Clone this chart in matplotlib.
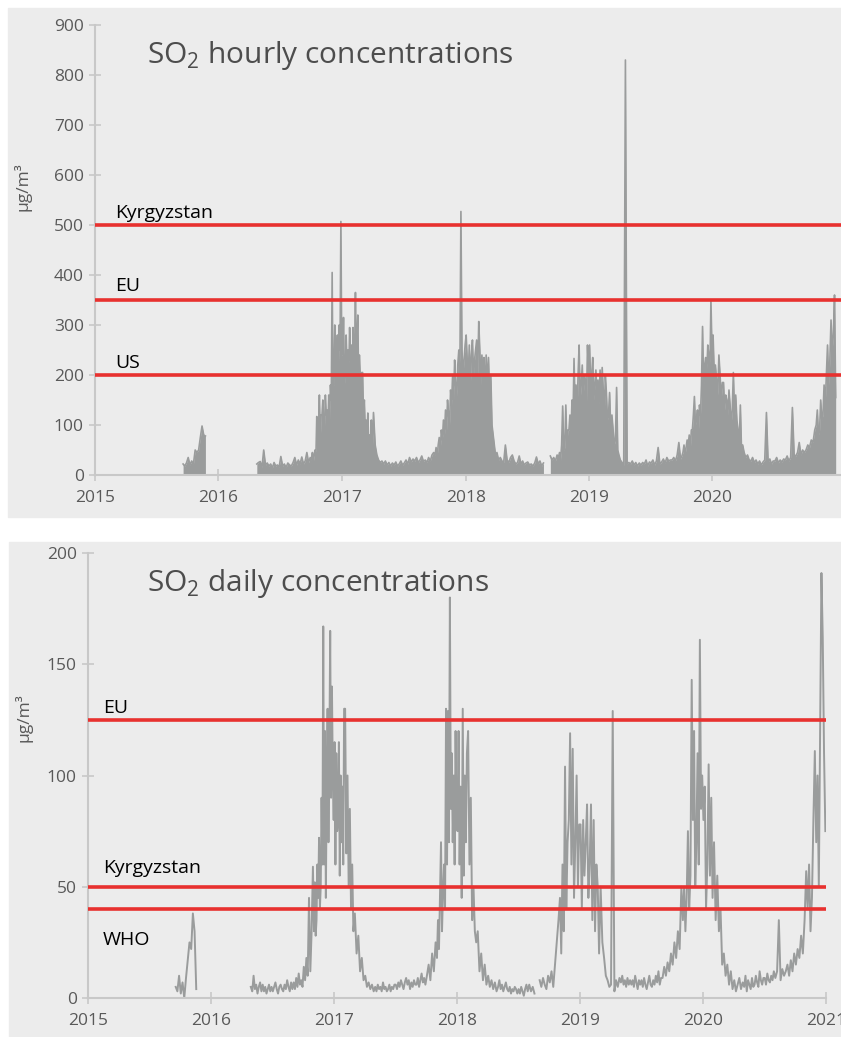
import calendar
from datetime import datetime, timedelta
import numpy as np
import matplotlib.pyplot as plt
import matplotlib.dates as mdates
from matplotlib.patches import Rectangle

plt.rcParams['font.family'] = ['Open Sans', 'DejaVu Sans']
plt.rcParams['mathtext.fontset'] = 'custom'
plt.rcParams['mathtext.rm'] = 'Open Sans'

# ---------- Data ----------
# hourly panel: peak values spread over each month, "-" = no data
hourly_months = ["2015-09", "2015-10", "2015-11",
                 "2016-04", "2016-05", "2016-06", "2016-07", "2016-08", "2016-09",
                 "2016-10", "2016-11", "2016-12",
                 "2017-01", "2017-02", "2017-03", "2017-04", "2017-05", "2017-06",
                 "2017-07", "2017-08", "2017-09", "2017-10", "2017-11", "2017-12",
                 "2018-01", "2018-02", "2018-03", "2018-04", "2018-05", "2018-06",
                 "2018-07", "2018-08", "2018-09", "2018-10", "2018-11", "2018-12",
                 "2019-01", "2019-02", "2019-03", "2019-04", "2019-05", "2019-06",
                 "2019-07", "2019-08", "2019-09", "2019-10", "2019-11", "2019-12",
                 "2020-01", "2020-02", "2020-03", "2020-04", "2020-05", "2020-06",
                 "2020-07", "2020-08", "2020-09", "2020-10", "2020-11", "2020-12"]
hourly_peaks = ["- - - 22 18 24", "35 20 28 22 50 45", "50 75 98 80 78 -",
                "- - - - 22 25", "27 15 50 20 24 18", "22 14 25 18 20 16",
                "37 18 22 15 24 20", "18 25 35 20 30 22", "36 22 28 45 25 35",
                "30 45 25 40 50 35 117 60 90 160 70 120",
                "120 150 80 100 160 120 130 90 160 110 180 150",
                "405 150 200 300 180 250 280 200 300 250 507 240",
                "240 315 180 200 280 220 250 200 295 230 260 180",
                "295 200 250 365 220 280 320 180 240 200 150 205",
                "205 120 150 90 110 70 124 60 80 50 110 40",
                "125 60 40 30 25 28", "22 28 20 25 18 24", "20 26 18 22 28 20",
                "24 30 22 35 26 32", "28 35 25 30 38 27", "30 25 35 28 40 45",
                "40 55 35 60 75 50 90 70 110 80",
                "130 90 150 120 100 170 140 200 150 230",
                "180 150 220 250 200 527 250 200 230 260",
                "280 230 200 260 180 240 270 200 230 250",
                "270 200 307 250 180 240 200 235 150",
                "240 180 235 150 200 100 80 60 40",
                "45 30 35 28 25 60", "30 25 35 40 28 22", "25 38 22 28 20 24",
                "26 20 22 18 24 36", "22 28 18 24 - -", "- 38 30 35 28 40",
                "35 45 30 60 138 50 55 140 60 90",
                "90 120 80 150 110 233 140 180 120 200",
                "260 150 180 220 160 200 190 140 260 200",
                "260 180 200 235 150 180 210 160 190 140",
                "210 150 215 170 120 200 165 110 120",
                "165 90 120 90 60 70 175 50 40",
                "30 25 20 830 22 25", "22 28 20 25 18 24", "20 25 22 30 18 26",
                "24 30 20 28 55 22", "26 32 24 35 28 30", "30 35 28 40 65 32",
                "38 45 60 40 55 70 60 80 50 90",
                "90 120 157 100 110 130 90 140 120 180",
                "297 180 220 235 200 260 240 200 350 250",
                "280 200 220 190 160 240 200 150 185",
                "185 130 160 150 120 170 140 100 130",
                "205 120 160 110 90 60 140 50 60",
                "45 35 40 30 28 35", "25 30 22 28 20 26", "30 125 25 32 22 28",
                "28 35 24 30 26 32", "30 38 28 35 135 40", "38 45 65 40 50 45",
                "50 60 55 70 65 90", "100 130 80 90 150 110 120 180 140",
                "200 260 180 230 310 250 280 360 155"]

# daily panel
daily_months = hourly_months
daily_values = ["- - - 5 3 10", "2 7 0 9 17 25", "22 38 30 4 - -",
                "- - - - - 5", "3 10 4 6 2 5 7 3", "6 3 5 2 4 6 3 5",
                "3 5 7 4 2 5 6 4", "3 6 4 8 5 3 7 4", "7 4 9 5 11 6 8 5",
                "14 8 18 10 45 12 30 59", "30 52 28 35 60 45 72 40 50 90 60 167",
                "60 120 45 95 130 70 110 165 90 140 100 80",
                "115 60 110 75 80 115 55 100 70 95 60 130",
                "130 65 100 50 85 40 60 30",
                "38 20 28 12 18 8", "10 5 7 4 6 3", "5 3 6 4 5 3 7 4", "5 3 4 6 3 5 4 6",
                "6 4 7 5 8 6 4 7", "9 6 8 4 7 5 8 6", "6 9 5 8 11 7 9 6",
                "10 15 8 20 12 25", "18 35 22 45 70 30 48 60 40 130",
                "60 129 70 180 85 110 70 100 60 120 80",
                "75 120 60 95 45 130 55 100 70 110", "120 60 90 35 50 30 25",
                "30 12 20 8 15 6", "10 5 8 4 7 3", "5 8 4 6 3 5 7 4", "3 5 2 4 3 5 4 2",
                "4 2 5 3 1 4 6 3", "6 3 5 2 - -", "8 5 9 6 4 10", "7 12 5 15 25 35",
                "45 20 60 30 104 40 70 80", "119 60 112 45 70 100 50 78",
                "78 40 80 55 70 87 45 60", "87 35 80 30 60 50 20",
                "50 25 18 10 8 5", "6 129 3 8 5 9", "7 10 6 8 5 9 6 8", "6 8 5 10 7 4 8 6",
                "8 5 9 6 4 7 10 6", "5 8 6 10 7 12 6 9", "9 14 10 16 12 20", "15 25 18 30 22 50",
                "35 50 30 45 75 40 55 143", "80 120 50 70 110 60 161 85 100",
                "80 95 40 60 105 55 90 45", "70 35 55 30 40 15",
                "20 10 15 6 12 4", "8 3 6 9 4 7", "5 10 3 8 6 4 9 5", "6 10 7 5 12 8 6 9",
                "9 6 11 8 7 10 8 12", "9 12 35 8 13 10", "12 15 10 17 12 20",
                "15 22 18 28 20 35", "57 40 60 30 45 80 111", "70 100 50 120 191 162 110 75"]

hourly_limits = [("Kyrgyzstan", 500), ("EU", 350), ("US", 200)]
daily_limits = [("EU", 125), ("Kyrgyzstan", 50), ("WHO", 40)]
hourly_label_y = [515, 368, 214]
daily_label_y = [128, 56, 24]

GRAY = "#9a9c9c"
RED = "#e8312f"
TXT = "#595959"
PANEL = "#ececec"
AXC = "#c8c8c8"


def expand(months, vals):
    """spread each month's readings evenly over the month; NaN between non-adjacent months"""
    xs, ys = [], []
    prev = None
    for m, s in zip(months, vals):
        yr, mo = map(int, m.split("-"))
        if prev is not None and (yr * 12 + mo) - prev > 1:
            xs.append(datetime(yr, mo, 1))
            ys.append(np.nan)
        prev = yr * 12 + mo
        nd = calendar.monthrange(yr, mo)[1]
        parts = s.split()
        for i, p in enumerate(parts):
            xs.append(datetime(yr, mo, 1) + timedelta(days=(i + 0.5) * nd / len(parts)))
            ys.append(np.nan if p == "-" else float(p))
    return np.array(xs), np.array(ys)


def segments(x, y):
    ok = np.isfinite(y)
    out, cur = [], []
    for i in range(len(y)):
        if ok[i]:
            cur.append(i)
        elif cur:
            out.append(cur)
            cur = []
    if cur:
        out.append(cur)
    return [(x[c], y[c]) for c in out]


fig = plt.figure(figsize=(8.41, 10.37), dpi=100, facecolor='white')
W, H = 841, 1037
# grey panel backgrounds
fig.patches.append(Rectangle((8 / W, 1 - 517 / H), (W - 8) / W, 509 / H,
                             transform=fig.transFigure, color=PANEL, zorder=-10))
fig.patches.append(Rectangle((9 / W, 0), (W - 9) / W, 1 - 542 / H,
                             transform=fig.transFigure, color=PANEL, zorder=-10))

ax1 = fig.add_axes([95 / W, 1 - 475 / H, (W - 95) / W, 450 / H])
ax2 = fig.add_axes([88 / W, 1 - 998 / H, 738 / W, 445 / H])


def style(ax, ylim, yticks, years):
    ax.set_facecolor('none')
    for s in ['top', 'right']:
        ax.spines[s].set_visible(False)
    for s in ['left', 'bottom']:
        ax.spines[s].set_color(AXC)
        ax.spines[s].set_linewidth(1.5)
    ax.set_ylim(*ylim)
    ax.set_yticks(yticks)
    ax.set_xticks([datetime(y, 1, 1) for y in years])
    ax.xaxis.set_major_formatter(mdates.DateFormatter('%Y'))
    ax.tick_params(axis='both', direction='inout', length=9, width=1.2, color=AXC,
                   labelcolor=TXT, labelsize=12.5)
    ax.tick_params(axis='x', pad=6)
    ax.set_ylabel("µg/m³", color=TXT, fontsize=12.5)


# ---------- hourly ----------
hx, hy = expand(hourly_months, hourly_peaks)
for sx, sy in segments(hx, hy):
    ax1.fill_between(sx, 0, sy, color=GRAY, lw=0, zorder=2)
    ax1.plot(sx, sy, color=GRAY, lw=1.2, zorder=2)
ax1.set_xlim(datetime(2015, 1, 1), datetime(2021, 1, 15))
style(ax1, (0, 900), range(0, 901, 100), range(2015, 2021))
ax1.yaxis.set_label_coords(-0.085, 0.64)
for (name, val), ly in zip(hourly_limits, hourly_label_y):
    ax1.axhline(val, color=RED, lw=2.6, zorder=3)
    ax1.text(0.027, ly, name, transform=ax1.get_yaxis_transform(), fontsize=14,
             color='black', va='baseline')
ax1.text(0.07, 824, "SO$_2$ hourly concentrations", transform=ax1.get_yaxis_transform(),
         fontsize=21.5, color='#4d4d4d', va='baseline')

# ---------- daily ----------
dx, dy = expand(daily_months, daily_values)
ax2.plot(dx, dy, color=GRAY, lw=1.4, zorder=2)
ax2.set_xlim(datetime(2015, 1, 1), datetime(2021, 1, 1))
style(ax2, (0, 200), range(0, 201, 50), range(2015, 2022))
ax2.yaxis.set_label_coords(-0.075, 0.63)
for (name, val), ly in zip(daily_limits, daily_label_y):
    ax2.axhline(val, color=RED, lw=2.6, zorder=3)
    ax2.text(0.02, ly, name, transform=ax2.get_yaxis_transform(), fontsize=14,
             color='black', va='baseline')
ax2.text(0.08, 183, "SO$_2$ daily concentrations", transform=ax2.get_yaxis_transform(),
         fontsize=21.5, color='#4d4d4d', va='baseline')

fig.savefig("out.png", dpi=100, facecolor='white')
